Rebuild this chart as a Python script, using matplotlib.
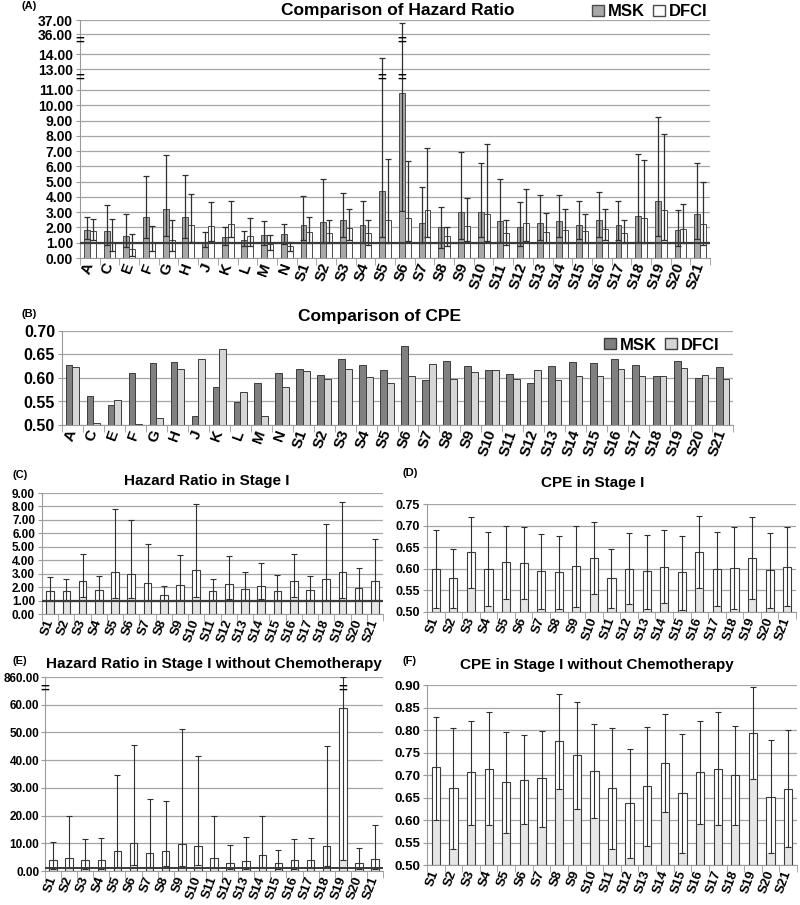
import numpy as np
import matplotlib.pyplot as plt
from matplotlib.patches import Patch

plt.rcParams['font.family'] = ['Liberation Sans', 'DejaVu Sans']
plt.rcParams['font.weight'] = 'bold'

# ---- data ----
cats_all = ['A', 'C', 'E', 'F', 'G', 'H', 'J', 'K', 'L', 'M', 'N',
            'S1', 'S2', 'S3', 'S4', 'S5', 'S6', 'S7', 'S8', 'S9', 'S10', 'S11',
            'S12', 'S13', 'S14', 'S15', 'S16', 'S17', 'S18', 'S19', 'S20', 'S21']
cats_sig = cats_all[11:]

# (A) hazard ratio, MSK / DFCI with 95% CI
hr_msk = [1.86, 1.77, 1.43, 2.66, 3.18, 2.70, 1.08, 1.37, 1.20, 1.48, 1.57,
          2.17, 2.35, 2.50, 2.15, 4.39, 10.80, 2.26, 2.04, 3.00, 3.00, 2.39,
          2.02, 2.26, 2.39, 2.17, 2.50, 2.13, 2.76, 3.70, 1.85, 2.87]
hr_msk_lo = [1.23, 0.85, 0.70, 1.28, 1.45, 1.32, 0.74, 0.87, 0.76, 0.87, 0.91,
             1.20, 0.98, 1.37, 0.98, 1.37, 3.10, 0.98, 0.65, 1.26, 1.37, 1.02,
             0.76, 1.15, 1.35, 1.24, 1.35, 1.15, 1.07, 1.41, 0.76, 1.26]
hr_msk_hi = [2.70, 3.50, 2.86, 5.35, 6.75, 5.41, 1.67, 2.02, 1.74, 2.43, 2.22,
             4.07, 5.17, 4.28, 3.72, 13.76, 36.77, 4.67, 3.37, 6.93, 6.24, 5.15,
             3.67, 4.15, 4.15, 3.72, 4.35, 3.70, 6.78, 9.24, 3.17, 6.24]
hr_dfci = [1.77, 1.06, 0.56, 0.97, 1.17, 2.19, 2.12, 2.24, 1.41, 0.91, 0.76,
           1.70, 1.65, 1.96, 1.61, 2.50, 2.60, 3.15, 1.41, 2.09, 2.91, 1.65,
           2.26, 1.72, 1.85, 1.76, 1.93, 1.61, 2.59, 3.11, 1.93, 2.22]
hr_dfci_lo = [1.17, 0.43, 0.15, 0.43, 0.48, 1.02, 1.13, 1.37, 0.76, 0.50, 0.43,
              1.00, 0.98, 1.20, 0.87, 0.98, 1.09, 1.35, 0.76, 1.09, 1.11, 0.87,
              1.09, 0.98, 0.98, 0.98, 1.15, 0.98, 0.98, 1.15, 0.98, 0.87]
hr_dfci_hi = [2.53, 2.53, 1.56, 2.10, 2.47, 4.22, 3.66, 3.70, 2.59, 1.48, 1.02,
              2.67, 2.48, 3.22, 2.48, 6.48, 6.37, 7.20, 2.00, 3.91, 7.43, 2.48,
              4.50, 2.93, 3.20, 2.87, 3.20, 2.48, 6.43, 8.13, 3.54, 5.00]

# (B) CPE
cpe_msk = [0.627, 0.561, 0.542, 0.611, 0.632, 0.634, 0.520, 0.580, 0.549, 0.589, 0.610,
           0.620, 0.607, 0.640, 0.627, 0.617, 0.668, 0.596, 0.637, 0.626, 0.618, 0.608,
           0.589, 0.625, 0.634, 0.632, 0.640, 0.627, 0.604, 0.637, 0.599, 0.623]
cpe_dfci = [0.623, 0.505, 0.553, 0.502, 0.515, 0.620, 0.640, 0.661, 0.570, 0.520, 0.580,
            0.614, 0.597, 0.619, 0.603, 0.590, 0.604, 0.629, 0.597, 0.613, 0.617, 0.597,
            0.618, 0.596, 0.604, 0.605, 0.620, 0.604, 0.604, 0.622, 0.606, 0.597]

# (C) hazard ratio in stage I
c_hr = [1.72, 1.70, 2.42, 1.75, 3.10, 2.95, 2.30, 1.45, 2.15, 3.30, 1.70,
        2.20, 1.85, 2.05, 1.70, 2.42, 1.75, 2.62, 3.15, 1.90, 2.42]
c_lo = [1.00, 1.00, 1.30, 1.05, 1.20, 1.20, 1.00, 1.00, 1.05, 1.30, 1.05,
        1.10, 1.05, 1.10, 1.00, 1.30, 1.05, 1.00, 1.20, 1.05, 1.05]
c_hi = [2.75, 2.60, 4.46, 2.85, 7.79, 7.00, 5.20, 2.05, 4.40, 8.16, 2.60,
        4.35, 3.10, 3.80, 2.90, 4.46, 2.85, 6.66, 8.36, 3.40, 5.55]

# (D) CPE in stage I
d_cpe = [0.600, 0.578, 0.640, 0.600, 0.615, 0.613, 0.595, 0.592, 0.607, 0.625, 0.578,
         0.600, 0.594, 0.605, 0.592, 0.640, 0.600, 0.602, 0.625, 0.597, 0.605]
d_lo = [0.510, 0.509, 0.555, 0.515, 0.529, 0.530, 0.508, 0.508, 0.512, 0.541, 0.509,
        0.519, 0.508, 0.520, 0.504, 0.556, 0.515, 0.507, 0.531, 0.510, 0.513]
d_hi = [0.690, 0.646, 0.721, 0.685, 0.700, 0.697, 0.680, 0.675, 0.699, 0.709, 0.646,
        0.682, 0.678, 0.689, 0.677, 0.722, 0.685, 0.697, 0.719, 0.682, 0.697]

# (E) hazard ratio in stage I without chemotherapy
e_hr = [3.84, 4.56, 3.84, 3.84, 7.20, 9.96, 6.60, 7.08, 9.60, 9.12, 4.56,
        3.00, 3.72, 5.64, 2.76, 3.84, 3.84, 9.12, 58.90, 2.76, 4.20]
e_lo = [0.8, 1.0, 0.9, 0.9, 1.5, 2.2, 1.6, 1.9, 1.9, 2.0, 1.0,
        0.8, 0.9, 1.6, 0.8, 0.9, 1.0, 1.8, 3.8, 0.8, 0.9]
e_hi = [10.56, 19.80, 11.50, 11.76, 34.80, 45.60, 25.80, 25.30, 51.40, 41.50, 19.80,
        9.24, 12.40, 19.90, 7.56, 11.50, 11.76, 45.20, 858.0, 8.40, 16.70]

# (F) CPE in stage I without chemotherapy
f_cpe = [0.717, 0.671, 0.706, 0.714, 0.684, 0.690, 0.693, 0.776, 0.744, 0.710, 0.671,
         0.638, 0.675, 0.726, 0.661, 0.706, 0.714, 0.700, 0.793, 0.652, 0.670]
f_lo = [0.601, 0.536, 0.590, 0.588, 0.571, 0.592, 0.585, 0.670, 0.625, 0.605, 0.536,
        0.516, 0.543, 0.617, 0.527, 0.591, 0.588, 0.590, 0.691, 0.526, 0.539]
f_hi = [0.829, 0.804, 0.820, 0.840, 0.795, 0.789, 0.797, 0.881, 0.862, 0.813, 0.804,
        0.757, 0.806, 0.835, 0.792, 0.819, 0.839, 0.808, 0.895, 0.778, 0.800]

W, H = 800, 905
fig = plt.figure(figsize=(W / 100, H / 100), dpi=100)

GRID = '#a6a6a6'
AXC = '#9a9a9a'


def add_box(l, t, r, b):
    return fig.add_axes([l / W, 1 - b / H, (r - l) / W, (b - t) / H])


def ftext(x, y, s, size):
    fig.text(x / W, 1 - y / H, s, ha='center', va='center', fontsize=size, fontweight='bold')


def style(ax, labels, ysize, xsize):
    n = len(labels)
    ax.set_xlim(-0.5, n - 0.5)
    for s in ['top', 'right']:
        ax.spines[s].set_visible(False)
    for s in ['left', 'bottom']:
        ax.spines[s].set_color(AXC)
    ax.yaxis.grid(True, color=GRID, lw=0.9)
    ax.set_axisbelow(True)
    ax.set_xticks(range(n))
    ax.set_xticklabels(labels, rotation=70, ha='right', va='center',
                       rotation_mode='anchor', fontsize=xsize, fontweight='bold')
    ax.tick_params(axis='x', which='major', length=0, pad=4)
    ax.set_xticks(np.arange(-0.5, n), minor=True)
    ax.tick_params(axis='x', which='minor', length=5, color=AXC)
    ax.tick_params(axis='y', length=3, color=AXC, labelsize=ysize, pad=2)
    ax.yaxis.set_major_formatter(plt.FormatStrFormatter('%.2f'))


def piecewise(vals, pos):
    fwd = lambda v: np.interp(np.asarray(v, float), vals, pos)
    inv = lambda p: np.interp(np.asarray(p, float), pos, vals)
    return fwd, inv


def cibars(ax, hr, lo, hi, base):
    x = np.arange(len(hr))
    hr, lo, hi = np.array(hr), np.array(lo), np.array(hi)
    w = 0.47
    ax.bar(x, lo - base, w, bottom=base, color='#e6e6e6', lw=0, zorder=2)
    ax.bar(x, hr - lo, w, bottom=lo, color='white', lw=0, zorder=2)
    ax.bar(x, hr - base, w, bottom=base, fill=False, edgecolor='#3c3c3c', lw=0.8, zorder=3)
    ax.errorbar(x, hr, yerr=[hr - lo, hi - hr], fmt='none', ecolor='#303030',
                elinewidth=0.8, capsize=2, capthick=0.8, zorder=4)


# ---- (A) ----
axA = add_box(80, 20, 710, 258)
fwdA, invA = piecewise([0, 11, 13, 14, 36, 37], [0, 11, 12.35, 13.35, 14.64, 15.58])
axA.set_yscale('function', functions=(fwdA, invA))
axA.set_ylim(0, 37)
style(axA, cats_all, 10, 11)
axA.set_yticks(list(range(12)) + [13, 14, 36, 37])
xa = np.arange(len(cats_all))
bw = 0.3
for off, v, lo, hi, col in [(-bw / 2, hr_msk, hr_msk_lo, hr_msk_hi, '#a8a8a8'),
                            (bw / 2, hr_dfci, hr_dfci_lo, hr_dfci_hi, '#fbfbfb')]:
    v, lo, hi = np.array(v), np.array(lo), np.array(hi)
    axA.bar(xa + off, v, bw, color=col, edgecolor='#4a4a4a', lw=0.7, zorder=2)
    axA.errorbar(xa + off, v, yerr=[v - lo, hi - v], fmt='none', ecolor='#303030',
                 elinewidth=0.9, capsize=2, capthick=0.9, zorder=4)
axA.axhline(1.0, color='#3a3a3a', lw=1.6, zorder=5)
for yb in [12.2, 28.5]:
    axA.text(0, yb, '=', transform=axA.get_yaxis_transform(), ha='center', va='center',
             fontsize=11, fontweight='bold', zorder=6)
axA.text(15 - bw / 2, 12.2, '=', ha='center', va='center', fontsize=11, fontweight='bold', zorder=6)
for yb in [12.2, 28.5]:
    axA.text(16 - bw / 2, yb, '=', ha='center', va='center', fontsize=11, fontweight='bold', zorder=6)
ftext(398, 10, 'Comparison of Hazard Ratio', 12.5)
ftext(29, 6, '(A)', 8)
hA = [Patch(facecolor='#a8a8a8', edgecolor='#4a4a4a'), Patch(facecolor='#fbfbfb', edgecolor='#4a4a4a')]
fig.legend(hA, ['MSK', 'DFCI'], loc='center', bbox_to_anchor=(650 / W, 1 - 12 / H), ncol=2,
           frameon=False, prop={'weight': 'bold', 'size': 12}, handlelength=0.7,
           handleheight=0.7, handletextpad=0.25, columnspacing=0.5)

# ---- (B) ----
axB = add_box(62, 331, 733, 425)
style(axB, cats_all, 11.5, 11)
axB.set_ylim(0.5, 0.7)
axB.set_yticks(np.arange(0.50, 0.701, 0.05))
bw2 = 0.32
axB.bar(xa - bw2 / 2, cpe_msk, bw2, color='#808080', edgecolor='#3c3c3c', lw=0.7, zorder=2)
axB.bar(xa + bw2 / 2, cpe_dfci, bw2, color='#d6d6d6', edgecolor='#3c3c3c', lw=0.7, zorder=2)
ftext(380, 317, 'Comparison of CPE', 12.5)
ftext(29, 314, '(B)', 8)
hB = [Patch(facecolor='#808080', edgecolor='#3c3c3c'), Patch(facecolor='#d6d6d6', edgecolor='#3c3c3c')]
axB.legend(hB, ['MSK', 'DFCI'], loc='center', bbox_to_anchor=((662 - 62) / 671, 1 - (345 - 331) / 94),
           ncol=2, frameon=False, prop={'weight': 'bold', 'size': 12}, handlelength=0.7,
           handleheight=0.7, handletextpad=0.25, columnspacing=0.5)

# ---- (C) ----
axC = add_box(42, 493, 383, 614)
style(axC, cats_sig, 8.5, 9.5)
axC.set_ylim(0, 9)
axC.set_yticks(range(10))
cibars(axC, c_hr, c_lo, c_hi, 0)
axC.axhline(1.0, color='#3a3a3a', lw=1.6, zorder=5)
ftext(207, 481, 'Hazard Ratio in Stage I', 11)
ftext(20, 475, '(C)', 8)

# ---- (D) ----
axD = add_box(427, 504, 796, 612)
style(axD, cats_sig, 9, 9.5)
axD.set_ylim(0.5, 0.75)
axD.set_yticks(np.arange(0.50, 0.751, 0.05))
cibars(axD, d_cpe, d_lo, d_hi, 0.5)
ftext(593, 483, 'CPE in Stage I', 11)
ftext(410, 473, '(D)', 8)

# ---- (E) ----
axE = add_box(45, 677, 383, 871)
fwdE, invE = piecewise([0, 60, 860], [0, 60, 70])
axE.set_yscale('function', functions=(fwdE, invE))
axE.set_ylim(0, 860)
style(axE, cats_sig, 8.5, 9.5)
axE.tick_params(axis='y', pad=1)
axE.set_yticks([0, 10, 20, 30, 40, 50, 60, 860])
cibars(axE, e_hr, e_lo, e_hi, 0)
axE.axhline(1.0, color='#3a3a3a', lw=1.4, zorder=5)
axE.text(0, 524, '=', transform=axE.get_yaxis_transform(), ha='center', va='center',
         fontsize=11, fontweight='bold', zorder=6)
axE.text(18, 524, '=', ha='center', va='center', fontsize=11, fontweight='bold', zorder=6)
ftext(214, 664, 'Hazard Ratio in Stage I without Chemotherapy', 11)
ftext(20, 661, '(E)', 8)

# ---- (F) ----
axF = add_box(427, 685, 797, 865)
style(axF, cats_sig, 9.5, 9.5)
axF.set_ylim(0.5, 0.9)
axF.set_yticks(np.arange(0.50, 0.901, 0.05))
cibars(axF, f_cpe, f_lo, f_hi, 0.5)
ftext(597, 665, 'CPE in Stage I without Chemotherapy', 11)
ftext(410, 661, '(F)', 8)

fig.savefig('out.png', dpi=100)
